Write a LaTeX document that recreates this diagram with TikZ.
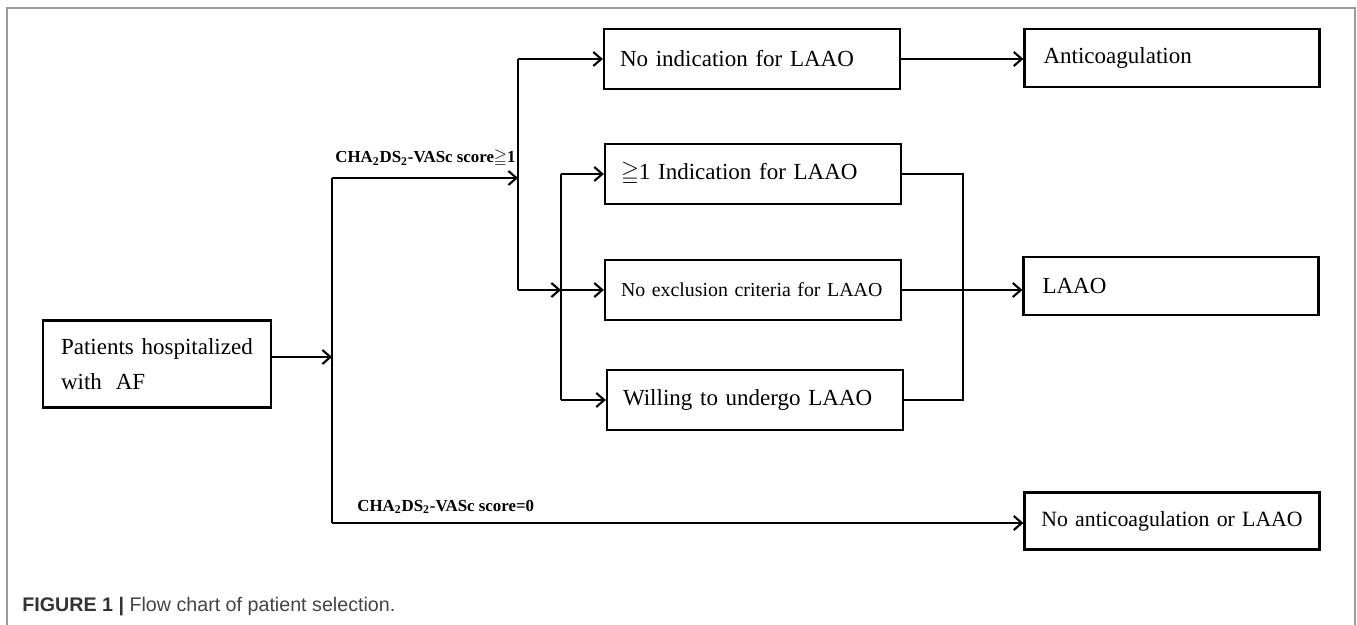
\documentclass[tikz,border=0pt]{standalone}
\usepackage{amssymb}
\usepackage{fontspec}
\setmainfont{Liberation Serif}
\newfontfamily\capfont{Liberation Sans}
\usetikzlibrary{arrows.meta}
\definecolor{framegray}{HTML}{9A9A9A}
\definecolor{captext}{HTML}{444444}

\begin{document}
\begin{tikzpicture}[x=0.02cm, y=-0.02cm,
    box/.style={draw, line width=1.3pt, inner xsep=0.32cm, inner ysep=0pt,
      minimum height=1.2cm, text width=5.28cm, align=left,
      font=\fontsize{13.1}{20}\selectfont},
    outbox/.style={box, minimum height=1.16cm, inner xsep=0.38cm, text width=5.14cm},
    score/.style={inner sep=0pt, font=\fontsize{9.6}{11}\selectfont\bfseries\boldmath},
    line/.style={line width=1.1pt},
    flow/.style={line, -{Straight Barb[length=1.6mm, width=2.8mm, line width=1.2pt]}}]
        \useasboundingbox (0,0) rectangle (1357,625);
        \draw[framegray, line width=0.9pt] (7,625) -- (7,8) -- (1355,8) -- (1355,625);

        \node[box, text width=3.84cm, inner xsep=0.36cm, minimum height=1.74cm] (pat) at (157,364) {Patients hospitalized\\ with\hspace{0.6em}AF};

        \node[box] (noind) at (752,59) {No indication for LAAO};
        \node[box] (ind) at (753,174) {$\geqq$1 Indication for LAAO};
        \node[box, font=\fontsize{11.3}{14}\selectfont] (excl) at (753,290) {No exclusion criteria for LAAO};
        \node[box] (will) at (755,400) {Willing to undergo LAAO};

        \node[outbox] (anti) at (1172,58) {Anticoagulation};
        \node[outbox] (laao) at (1171,286) {LAAO};
        \node[outbox, minimum height=1.14cm, inner xsep=0.1cm, text width=5.7cm, align=center, font=\fontsize{12.4}{15}\selectfont] (none) at (1172,521) {No anticoagulation or LAAO};

        \coordinate (entry) at (332,357);
        \coordinate (fork) at (332,178);
        \coordinate (forklow) at (332,523);
        \coordinate (hub) at (518,178);
        \coordinate (rail) at (561,174);
        \coordinate (merge) at (963,174);

        \draw[flow] (pat.east |- entry) -- (entry);
        \draw[line] (fork) -- (forklow);
        \draw[flow] (fork) -- (hub);
        \node[score, anchor=base west] (hi) at (335,163) {CHA\textsubscript{2}DS\textsubscript{2}-VASc score$\geqq$1};

        \draw[line] (hub |- noind) -- (hub |- excl);
        \draw[flow] (hub |- noind) -- (noind.west);
        \draw[flow] (hub |- excl) -- (rail |- excl);

        \draw[line] (rail |- ind) -- (rail |- will);
        \draw[flow] (rail |- ind) -- (ind.west);
        \draw[flow] (rail |- excl) -- (excl.west);
        \draw[flow] (rail |- will) -- (will.west);

        \draw[line] (ind.east) -- (ind.east -| merge) -- (will.east -| merge) -- (will.east);
        \draw[flow] (excl.east) -- (excl.east -| laao.west);
        \draw[flow] (noind.east) -- (noind.east -| anti.west);

        \draw[flow] (forklow) -- (forklow -| none.west);
        \node[score, anchor=base west] (lo) at (357,511) {CHA\textsubscript{2}DS\textsubscript{2}-VASc score=0};

        \node[anchor=base west, inner sep=0pt, text=captext, font=\capfont\fontsize{11.2}{13}\selectfont] (cap) at (22,611) {\textbf{\color{black!80}FIGURE 1 |} Flow chart of patient selection.};
    \end{tikzpicture}
\end{document}
